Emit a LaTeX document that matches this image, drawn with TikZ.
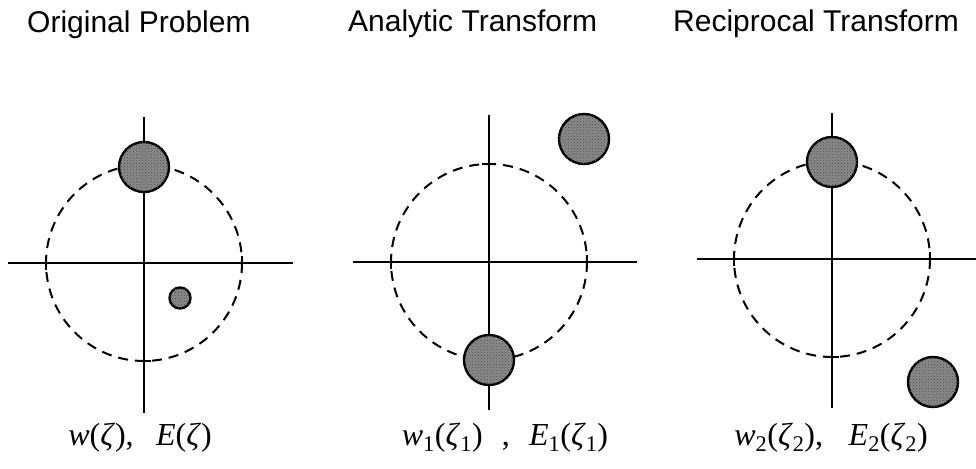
\documentclass[tikz,border=0pt]{standalone}
\usepackage{fontspec}
\setmainfont{Liberation Serif}
\newfontfamily\titlefont{Liberation Sans}
\usetikzlibrary{patterns}
\definecolor{ink}{HTML}{000000}
\definecolor{shade}{HTML}{8A8A8A}
\tikzset{
  axisline/.style={draw=ink,line width=2.4pt},
  unitcirc/.style={draw=ink,line width=2pt,dash pattern=on 10pt off 7pt},
  tickmark/.style={draw=ink,line width=2pt},
  disc/.style={circle,draw=ink,line width=2.4pt,fill=shade,inner sep=0pt,minimum size=50pt,
               postaction={pattern=crosshatch dots,pattern color=ink!70}},
  smalldisc/.style={disc,minimum size=21pt},
  paneltitle/.style={anchor=base west,inner sep=0pt,text=ink,font=\titlefont\fontsize{30}{34}\selectfont},
  planelabel/.style={anchor=base,inner sep=0pt,text=ink,font=\fontsize{32}{36}\selectfont}
}
\newcommand{\zt}[1]{\textit{#1}}

\begin{document}
\begin{tikzpicture}[x=1pt,y=-1pt]
  \useasboundingbox (0,0) rectangle (976,468);
  % original problem
  \coordinate (o0) at (144,263);
  \node[paneltitle] (t0) at (27,33) {Original Problem};
  \draw[axisline] (8,263) -- (293,263);
  \draw[axisline] (144,117) -- (144,413);
  \draw[unitcirc] (o0) circle (98);
  \draw[tickmark] (46,256) -- (46,270) (242,256) -- (242,270) (137,361) -- (151,361);
  \node[disc] (d0) at (144,167) {};
  \node[smalldisc] (s0) at (180,298) {};
  \node[planelabel] (l0) at (140,445) {\zt{w}(\zt{ζ}),\hspace{0.7em}\zt{E}(\zt{ζ})};
  % analytic transform
  \coordinate (o1) at (489,262);
  \node[paneltitle] (t1) at (348,32) {Analytic Transform};
  \draw[axisline] (353,262) -- (637,262);
  \draw[axisline] (489,115) -- (489,410);
  \draw[unitcirc] (o1) circle (98);
  \draw[tickmark] (391,255) -- (391,269) (587,255) -- (587,269) (482,164) -- (496,164);
  \node[disc] (d1) at (489,360) {};
  \node[disc] (e1) at (584,139) {};
  \node[planelabel] (l1) at (505,445) {\zt{w}\textsubscript{1}(\zt{ζ}\textsubscript{1})\hspace{0.6em},\hspace{0.6em}\zt{E}\textsubscript{1}(\zt{ζ}\textsubscript{1})};
  % reciprocal transform
  \coordinate (o2) at (832,259);
  \node[paneltitle] (t2) at (673,32) {Reciprocal Transform};
  \draw[axisline] (697,259) -- (976,259);
  \draw[axisline] (832,113) -- (832,408);
  \draw[unitcirc] (o2) circle (98);
  \draw[tickmark] (734,252) -- (734,266) (930,252) -- (930,266) (825,357) -- (839,357);
  \node[disc] (d2) at (832,162) {};
  \node[disc] (e2) at (933,382) {};
  \node[planelabel] (l2) at (831,445) {\zt{w}\textsubscript{2}(\zt{ζ}\textsubscript{2}),\hspace{0.8em}\zt{E}\textsubscript{2}(\zt{ζ}\textsubscript{2})};
\end{tikzpicture}
\end{document}
